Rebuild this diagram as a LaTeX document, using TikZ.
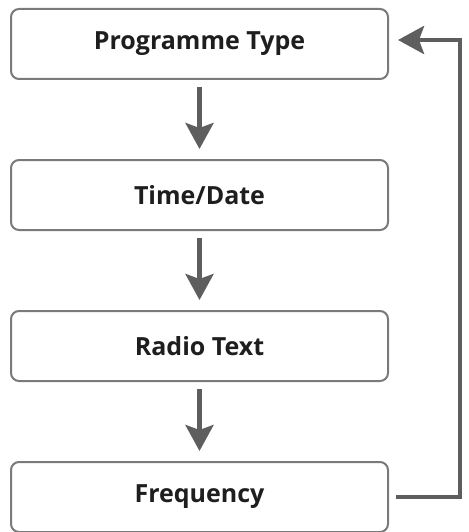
\documentclass[tikz,border=0pt]{standalone}
\usepackage{fontspec}
\setmainfont{Open Sans}
\usepackage{tikz}
\usepackage{xcolor}
\usetikzlibrary{arrows.meta, positioning}
\definecolor{boxline}{HTML}{7A7A7A}
\definecolor{arrowgray}{HTML}{5E5E5E}
\definecolor{txt}{HTML}{1E1E1E}
\tikzstyle{field} = [rectangle, rounded corners=8pt, minimum width=377pt, minimum height=70pt,
                     text centered, draw=boxline, line width=2pt, fill=white,
                     font=\fontsize{25}{28}\selectfont\bfseries, text=txt]
\tikzstyle{arrow} = [-{Stealth[length=26pt, width=28pt, inset=5pt]}, line width=4.5pt, draw=arrowgray]

\begin{document}
\begin{tikzpicture}[node distance=79pt]
    \useasboundingbox (0,0) rectangle (468pt,-532pt);
    \node (prog) [field] at (199.5pt,-44pt) {Programme Type};
    \node (time) [field, below=of prog] {Time/Date};
    \node (radio) [field, below=of time] {Radio Text};
    \node (freq) [field, below=of radio] {Frequency};

    \draw[arrow, shorten <=7pt, shorten >=10pt] (prog) -- (time);
    \draw[arrow, shorten <=7pt, shorten >=10pt] (time) -- (radio);
    \draw[arrow, shorten <=7pt, shorten >=10pt] (radio) -- (freq);
    \draw[arrow] ([xshift=7pt]freq.east) -- ++(64pt,0) |- ([xshift=9pt,yshift=4pt]prog.east);
\end{tikzpicture}
\end{document}
